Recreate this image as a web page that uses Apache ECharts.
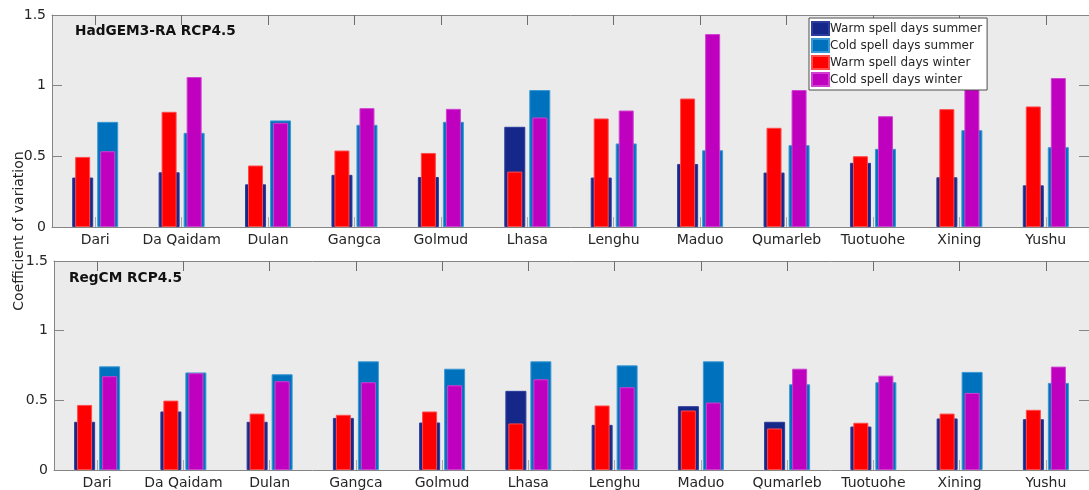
<!DOCTYPE html>
<html>
<head>
<meta charset="utf-8">
<script src="https://cdn.jsdelivr.net/npm/echarts@6/dist/echarts.min.js"></script>
<style>
  html, body { margin: 0; padding: 0; background: #ffffff; }
  #chart { width: 1089px; height: 490px; }
</style>
</head>
<body>
<div id="chart"></div>
<script>
// Stations on the Tibetan Plateau
const stations = ['Dari', 'Da Qaidam', 'Dulan', 'Gangca', 'Golmud', 'Lhasa',
                  'Lenghu', 'Maduo', 'Qumarleb', 'Tuotuohe', 'Xining', 'Yushu'];

const seriesNames = ['Warm spell days summer', 'Cold spell days summer',
                     'Warm spell days winter', 'Cold spell days winter'];

const panelTitles = ['HadGEM3-RA RCP4.5', 'RegCM RCP4.5'];
const yAxisName = 'Coefficient of variation';
const yTicks = [0, 0.5, 1, 1.5];

// HadGEM3-RA RCP4.5
const hadWarmSummer = [0.35, 0.387, 0.302, 0.369, 0.354, 0.709, 0.35, 0.446, 0.385, 0.454, 0.352, 0.295];
const hadColdSummer = [0.744, 0.666, 0.754, 0.723, 0.744, 0.969, 0.591, 0.543, 0.579, 0.553, 0.685, 0.565];
const hadWarmWinter = [0.496, 0.815, 0.435, 0.541, 0.524, 0.392, 0.768, 0.909, 0.702, 0.501, 0.834, 0.853];
const hadColdWinter = [0.536, 1.061, 0.737, 0.841, 0.836, 0.775, 0.824, 1.365, 0.969, 0.784, 1.002, 1.054];

// RegCM RCP4.5
const regWarmSummer = [0.346, 0.42, 0.346, 0.374, 0.341, 0.568, 0.324, 0.458, 0.346, 0.312, 0.37, 0.365];
const regColdSummer = [0.744, 0.70, 0.687, 0.78, 0.727, 0.78, 0.751, 0.78, 0.615, 0.63, 0.704, 0.625];
const regWarmWinter = [0.467, 0.498, 0.405, 0.396, 0.42, 0.334, 0.463, 0.427, 0.298, 0.339, 0.405, 0.432];
const regColdWinter = [0.673, 0.695, 0.637, 0.63, 0.608, 0.651, 0.594, 0.484, 0.727, 0.677, 0.553, 0.742];

const colors = ['#15288a', '#0072bd', '#ff0000', '#bf00bf'];
const edgeColors = ['#2b3c9c', '#3a98d4', '#ff4a4a', '#d040d0'];

const textColor = '#262626';
const axisColor = '#858585';
const font = 'DejaVu Sans';

const chart = echarts.init(document.getElementById('chart'), null, { renderer: 'canvas' });

const grids = [
  { left: 52, top: 15, width: 1045, height: 212 },
  { left: 54, top: 261, width: 1043, height: 210 }
];

function gridOpt(g) {
  return Object.assign({
    show: true, backgroundColor: '#ebebeb', borderWidth: 0, containLabel: false
  }, g);
}

const xAxes = [];
const yAxes = [];
grids.forEach((g, i) => {
  // bottom axis: labels, carries summer bars
  xAxes.push({
    type: 'category', gridIndex: i, position: 'bottom', data: stations,
    axisLine: { show: true, onZero: false, lineStyle: { color: axisColor, width: 1 } },
    axisTick: { show: true, inside: true, alignWithLabel: true, interval: 0, length: 10,
                lineStyle: { color: '#a8a8a8', width: 1 } },
    axisLabel: { show: true, interval: 0, margin: 6, color: textColor, fontFamily: font, fontSize: 14 },
    splitLine: { show: false }
  });
  // top axis: tick marks, carries winter bars
  xAxes.push({
    type: 'category', gridIndex: i, position: 'top', data: stations,
    axisLine: { show: true, onZero: false, lineStyle: { color: axisColor, width: 1 } },
    axisTick: { show: true, inside: true, alignWithLabel: true, interval: 0, length: 10,
                lineStyle: { color: '#6e6e6e', width: 1 } },
    axisLabel: { show: false, interval: 0 },
    splitLine: { show: false }
  });
  yAxes.push({
    type: 'value', gridIndex: i, position: 'left', min: 0, max: 1.5, interval: 0.5,
    axisLine: { show: true, onZero: false, lineStyle: { color: axisColor, width: 1 } },
    axisTick: { show: true, inside: true, length: 10, lineStyle: { color: axisColor } },
    axisLabel: { show: true, margin: 6, color: textColor, fontFamily: font, fontSize: 14,
                 formatter: v => yTicks.includes(v) ? String(v) : '' },
    splitLine: { show: false }
  });
  yAxes.push({
    type: 'value', gridIndex: i, position: 'right', min: 0, max: 1.5, interval: 0.5,
    axisLine: { show: true, onZero: false, lineStyle: { color: axisColor, width: 1 } },
    axisTick: { show: true, inside: true, length: 10, lineStyle: { color: axisColor } },
    axisLabel: { show: false },
    splitLine: { show: false }
  });
});

const panelData = [
  [hadWarmSummer, hadColdSummer, hadWarmWinter, hadColdWinter],
  [regWarmSummer, regColdSummer, regWarmWinter, regColdWinter]
];

const series = [];
panelData.forEach((sets, p) => {
  sets.forEach((vals, k) => {
    const winter = k >= 2;
    series.push({
      type: 'bar',
      name: seriesNames[k],
      xAxisIndex: p * 2 + (winter ? 1 : 0),
      yAxisIndex: p * 2,
      data: vals,
      barWidth: winter ? 15 : 21,
      barGap: winter ? '67%' : '19%',
      z: winter ? 3 : 2,
      itemStyle: { color: colors[k], borderColor: edgeColors[k], borderWidth: 1 },
      emphasis: { disabled: true },
      animation: false
    });
  });
});

const option = {
  animation: false,
  backgroundColor: '#ffffff',
  grid: grids.map(gridOpt),
  xAxis: xAxes,
  yAxis: yAxes,
  legend: {
    data: seriesNames,
    orient: 'vertical',
    left: 809, top: 18,
    itemWidth: 17, itemHeight: 13, itemGap: 2,
    padding: [3, 5, 3, 2],
    icon: 'rect',
    backgroundColor: '#ffffff',
    borderColor: '#4d4d4d', borderWidth: 1, borderRadius: 0,
    selectedMode: false,
    textStyle: { color: textColor, fontFamily: font, fontSize: 12, padding: [0, 0, 0, -4] }
  },
  graphic: [
    { type: 'text', left: 75, top: 24,
      style: { text: panelTitles[0], fill: '#111', font: 'bold 13.7px "DejaVu Sans"' } },
    { type: 'text', left: 69, top: 271,
      style: { text: panelTitles[1], fill: '#111', font: 'bold 13.7px "DejaVu Sans"' } },
    { type: 'text', x: 19, y: 231, rotation: Math.PI / 2,
      style: { text: yAxisName, fill: textColor, font: '14px "DejaVu Sans"',
               align: 'center', verticalAlign: 'middle' } }
  ],
  series: series
};

chart.setOption(option);
</script>
</body>
</html>
